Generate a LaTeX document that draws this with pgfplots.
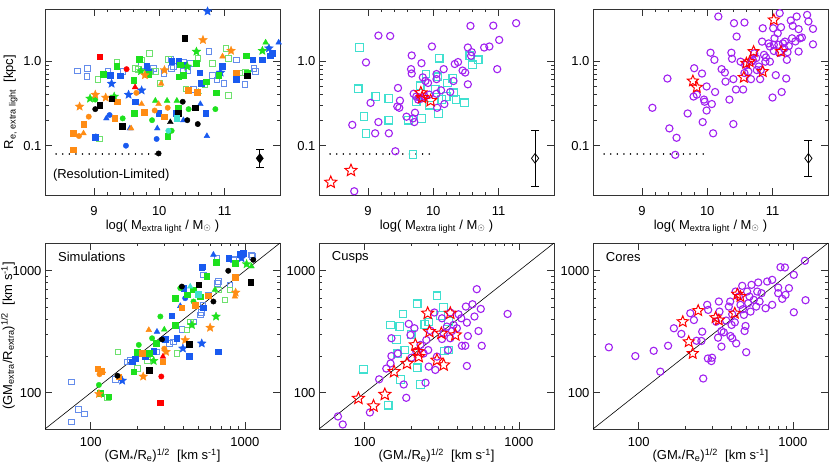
\documentclass[border=0pt]{standalone}
\usepackage{pgfplots}
\pgfplotsset{compat=1.18}
\usepackage{fontspec}
\setmainfont{Liberation Sans}
\definecolor{sblue}{RGB}{25,90,240}
\definecolor{lblue}{RGB}{100,140,235}
\definecolor{sgreen}{RGB}{30,225,30}
\definecolor{lgreen}{RGB}{110,225,110}
\definecolor{sorange}{RGB}{255,140,20}
\definecolor{spurple}{RGB}{160,32,240}
\definecolor{scyan}{RGB}{64,224,208}
\newcommand\fs{\fontsize{13}{15}\selectfont}
\newcommand\starpath{%
 \pgfpathmoveto{\pgfpointpolar{90}{\pgfplotmarksize}}%
 \pgfpathlineto{\pgfpointpolar{126}{0.45\pgfplotmarksize}}%
 \pgfpathlineto{\pgfpointpolar{162}{\pgfplotmarksize}}%
 \pgfpathlineto{\pgfpointpolar{198}{0.45\pgfplotmarksize}}%
 \pgfpathlineto{\pgfpointpolar{234}{\pgfplotmarksize}}%
 \pgfpathlineto{\pgfpointpolar{270}{0.45\pgfplotmarksize}}%
 \pgfpathlineto{\pgfpointpolar{306}{\pgfplotmarksize}}%
 \pgfpathlineto{\pgfpointpolar{342}{0.45\pgfplotmarksize}}%
 \pgfpathlineto{\pgfpointpolar{18}{\pgfplotmarksize}}%
 \pgfpathlineto{\pgfpointpolar{54}{0.45\pgfplotmarksize}}%
 \pgfpathclose}
\pgfdeclareplotmark{ostar}{\starpath\pgfusepathqstroke}
\pgfdeclareplotmark{fstar}{\starpath\pgfusepathqfillstroke}
\pgfplotsset{
 every axis/.append style={scale only axis, width=235pt, height=186pt, anchor=south west,
   tick align=inside, major tick length=7pt, minor tick length=3.5pt,
   axis line style={line width=0.8pt, black!80},
   every tick/.style={black!80, line width=0.6pt},
   tick label style={font=\fs}, label style={font=\fs},
   /pgf/number format/assume math mode=true},
 sq/.style={only marks, mark=square*, mark size=2.8pt},
 osq/.style={only marks, mark=square, mark size=2.8pt, mark options={line width=0.7pt}},
 ci/.style={only marks, mark=*, mark size=2.7pt},
 tr/.style={only marks, mark=triangle*, mark size=3.3pt},
 st/.style={only marks, mark=fstar, mark size=4.6pt, mark options={line width=0.3pt}},
 pc/.style={only marks, mark=o, mark size=3.6pt, spurple, mark options={line width=1.1pt}},
 cq/.style={only marks, mark=square, mark size=3.8pt, scyan, mark options={line width=1.2pt}},
 rs/.style={only marks, mark=ostar, mark size=6.3pt, red, mark options={line width=1pt}},
 dotl/.style={black, line width=1.6pt, line cap=round, dash pattern=on 0.01pt off 6.6pt},
}
\begin{document}
\begin{tikzpicture}
% ---------------- top left ----------------
\begin{axis}[at={(45pt,271pt)},
  xmin=8.25, xmax=11.85, ymode=log, ymin=0.0262, ymax=4.1,
  xtick={9,10,11}, xticklabels={9,10,11}, minor x tick num=4,
  ytick={0.1,1}, yticklabels={0.1,1.0},
  xlabel={log( M\textsubscript{extra light} / M\textsubscript{$\odot$} )},
  xlabel style={at={(axis description cs:0.5,0)}, anchor=base, yshift=-34pt},
  xticklabel style={anchor=base, yshift=-20pt},
  ylabel={R\textsubscript{e, extra light}\ \ [kpc]},
  ylabel style={at={(axis description cs:-0.136,0.5)}, anchor=base}]
\addplot[dotl] coordinates {(8.42,0.08) (10,0.08)};
\addplot[osq, lblue] coordinates {(8.75,0.76) (8.90,0.82) (8.89,0.66) (9.21,0.76) (9.44,0.75) (9.73,0.88) (9.86,0.75) (9.91,0.82) (10.07,0.71) (10.18,1.05) (10.22,0.87) (10.19,0.82) (10.37,0.98) (10.37,0.75) (10.44,0.77) (10.48,0.94) (10.52,0.46) (10.76,1.29) (10.81,0.68) (10.88,0.60) (10.99,0.54) (11.18,1.03) (11.18,0.64) (11.31,0.53) (11.45,0.82) (11.47,0.75)};
\addplot[osq, lgreen] coordinates {(9.06,0.61) (9.08,0.12) (9.35,0.98) (9.63,0.82) (9.73,1.03) (9.85,1.23) (9.94,0.75) (10.14,1.05) (10.01,0.54) (10.41,0.47) (10.59,1.07) (10.81,0.94) (11.02,1.41) (11.06,1.07) (11.23,0.72) (11.06,0.39) (11.32,0.73) (10.70,0.52) (9.68,0.80)};
\addplot[sq, sblue] coordinates {(9.25,0.68) (9.40,0.67) (9.63,0.33) (9.81,0.86) (9.83,0.75) (9.99,0.24) (10.19,0.99) (10.30,0.99) (10.37,0.90) (10.25,0.24) (10.62,0.73) (10.64,0.55) (10.71,0.24) (10.96,0.87) (11.18,0.61) (11.43,1.03) (11.58,1.03) (11.70,1.15) (11.73,1.23) (9.02,0.126)};
\addplot[ci, sblue] coordinates {(9.24,0.23) (9.49,0.10) (9.96,0.12)};
\addplot[tr, sblue] coordinates {(9.19,0.21) (9.97,0.16) (10.37,0.20) (10.63,0.31) (10.73,0.13) (11.83,1.65) (9.55,0.16) (9.03,0.127)};
\addplot[st, sblue] coordinates {(9.27,0.54) (9.53,0.40) (9.73,0.45) (10.74,3.85) (10.94,0.73) (11.68,1.41)};
\addplot[sq, sgreen] coordinates {(9.14,0.70) (9.35,0.87) (9.61,0.59) (9.69,1.05) (9.83,0.70) (10.37,0.68) (10.32,0.90) (10.57,0.94) (10.72,0.57) (10.91,0.68) (10.87,0.42) (11.33,1.15) (11.35,0.73) (10.13,0.13) (10.29,0.28) (9.62,0.24) (10.30,0.65)};
\addplot[ci, sgreen] coordinates {(9.32,0.21) (9.44,0.21) (9.89,0.20) (10.19,0.15) (10.45,0.27) (10.86,0.27) (9.02,0.35)};
\addplot[tr, sgreen] coordinates {(9.94,0.34) (10.12,0.34) (10.27,0.34) (10.60,0.43) (11.63,1.65)};
\addplot[st, sgreen] coordinates {(8.94,0.36) (9.31,0.38) (9.72,0.76) (10.43,0.86) (10.57,1.29) (11.58,1.32)};
\addplot[sq, sorange] coordinates {(8.68,0.09) (8.68,0.14) (8.84,0.18) (9.32,0.21) (9.36,0.33) (9.77,0.25) (10.08,0.22) (10.44,0.45) (10.58,0.43) (11.18,0.73)};
\addplot[ci, sorange] coordinates {(8.77,0.13) (8.92,0.22) (9.65,0.42) (9.93,0.26) (10.13,0.28)};
\addplot[tr, sorange] coordinates {(8.84,0.14) (9.57,0.16) (9.73,0.31) (9.99,0.31) (10.03,0.54) (10.97,1.13)};
\addplot[st, sorange] coordinates {(8.78,0.29) (9.02,0.40) (9.18,0.37) (9.78,0.68) (10.08,0.78) (10.67,1.77) (11.10,1.32)};
\addplot[sq, black] coordinates {(9.09,0.30) (9.27,0.36) (9.43,0.17) (10.39,1.85) (10.55,0.28) (11.35,0.67) (10.29,0.24)};
\addplot[ci, black] coordinates {(9.02,0.27) (9.99,0.081) (10.36,0.33) (10.43,0.20) (10.59,0.18)};
\addplot[tr, black] coordinates {(10.17,0.19)};
\addplot[sq, red] coordinates {(9.09,1.12)};
\addplot[ci, red] coordinates {(9.50,0.80)};
\addplot[tr, red] coordinates {(9.63,0.49)};
\addplot[sq, scyan] coordinates {(10.27,0.21)};
\addplot[ci, scyan] coordinates {(10.14,0.15)};
\addplot[black, mark=-, mark size=4pt, line width=0.8pt] coordinates {(11.54,0.055) (11.54,0.0914)};
\addplot[only marks, mark=diamond*, mark size=4.8pt, black] coordinates {(11.54,0.071)};
\node[anchor=west, inner sep=0pt, font=\fs] at (axis cs:8.37,0.045) {(Resolution-Limited)};
\end{axis}
% ---------------- top middle ----------------
\begin{axis}[at={(319pt,271pt)},
  xmin=8.25, xmax=11.85, ymode=log, ymin=0.0262, ymax=4.1,
  xtick={9,10,11}, xticklabels={9,10,11}, minor x tick num=4,
  ytick={0.1,1}, yticklabels={0.1,1.0},
  xlabel={log( M\textsubscript{extra light} / M\textsubscript{$\odot$} )},
  xlabel style={at={(axis description cs:0.5,0)}, anchor=base, yshift=-34pt},
  xticklabel style={anchor=base, yshift=-20pt}]
\addplot[dotl] coordinates {(8.42,0.08) (10,0.08)};
\addplot[cq] coordinates {(8.87,1.44) (8.85,0.47) (9.12,0.38) (9.32,0.36) (8.94,0.22) (8.97,0.14) (9.32,0.20) (9.62,0.20) (9.82,0.21) (9.69,0.079) (9.80,0.51) (9.89,0.70) (10.07,0.65) (10.09,1.08) (10.22,0.55) (10.35,0.35) (10.48,0.32) (10.13,0.35) (10.08,0.24) (9.94,0.30) (10.56,1.15) (10.69,1.03) (10.60,0.90) (10.31,0.42) (10.03,0.46) (10.20,0.38) (9.74,0.33) (10.30,0.62)};
\addplot[pc] coordinates {(9.16,1.99) (9.34,1.97) (8.97,0.96) (9.98,1.48) (9.67,1.16) (9.82,0.94) (9.66,0.80) (9.67,0.71) (9.84,0.64) (9.88,0.58) (9.92,0.55) (10.05,0.70) (10.05,0.61) (10.16,0.80) (10.31,0.58) (10.33,0.92) (10.38,0.97) (10.45,0.77) (10.49,0.73) (10.53,0.53) (10.53,1.44) (10.58,1.15) (10.59,1.27) (10.57,2.59) (10.78,1.44) (10.86,1.48) (10.92,2.61) (11.01,1.77) (10.98,0.80) (11.27,2.79) (9.46,0.48) (9.45,0.29) (9.49,0.34) (9.48,0.28) (9.04,0.32) (9.16,0.19) (9.11,0.14) (9.32,0.14) (8.76,0.176) (9.42,0.086) (8.79,0.029) (9.59,0.22) (9.69,0.21) (9.71,0.19) (9.72,0.245) (9.70,0.41) (9.79,0.37) (9.77,0.35) (9.87,0.38) (9.94,0.40) (10.05,0.41) (10.06,0.28) (10.12,0.45) (10.17,0.31) (10.26,0.43) (9.74,0.38) (9.82,0.36)};
\addplot[rs] coordinates {(8.43,0.037) (8.74,0.051) (9.81,0.42) (9.96,0.34) (9.83,0.37)};
\addplot[black, mark=-, mark size=4pt, line width=0.8pt] coordinates {(11.56,0.0328) (11.56,0.150)};
\addplot[only marks, mark=diamond, mark size=4.8pt, black, mark options={fill=white, line width=0.8pt}] coordinates {(11.56,0.071)};
\end{axis}
% ---------------- top right ----------------
\begin{axis}[at={(593pt,271pt)},
  xmin=8.25, xmax=11.85, ymode=log, ymin=0.0262, ymax=4.1,
  xtick={9,10,11}, xticklabels={9,10,11}, minor x tick num=4,
  ytick={0.1,1}, yticklabels={0.1,1.0},
  xlabel={log( M\textsubscript{extra light} / M\textsubscript{$\odot$} )},
  xlabel style={at={(axis description cs:0.5,0)}, anchor=base, yshift=-34pt},
  xticklabel style={anchor=base, yshift=-20pt}]
\addplot[dotl] coordinates {(8.42,0.08) (10,0.08)};
\addplot[pc] coordinates {(9.16,0.28) (9.42,0.16) (9.53,0.124) (9.51,0.078) (9.39,0.62) (9.70,0.24) (9.80,0.82) (9.92,0.71) (9.79,0.38) (9.84,0.40) (9.95,0.35) (9.96,0.33) (9.99,0.26) (9.99,0.50) (9.93,0.19) (10.07,0.31) (10.09,0.14) (10.12,0.43) (10.05,1.25) (10.11,1.03) (10.17,3.34) (10.22,0.80) (10.27,0.73) (10.28,0.57) (10.34,0.35) (10.37,1.25) (10.38,1.06) (10.40,0.61) (10.40,0.18) (10.44,0.46) (10.41,2.79) (10.45,1.94) (10.55,0.46) (10.57,2.84) (10.58,0.90) (10.63,0.75) (10.68,0.98) (10.72,1.23) (10.75,1.08) (10.79,0.86) (10.81,0.61) (10.67,0.61) (10.82,0.78) (10.84,1.69) (10.87,1.18) (10.89,0.98) (10.85,2.43) (10.94,1.61) (10.96,1.48) (11.00,0.37) (11.02,1.55) (11.01,2.43) (11.03,1.85) (11.05,0.68) (11.08,2.12) (11.11,3.66) (11.14,0.43) (11.13,2.50) (11.19,1.69) (11.16,1.61) (11.22,1.03) (11.23,1.27) (11.21,0.62) (11.28,3.00) (11.30,1.85) (11.31,2.59) (11.37,3.34) (11.40,2.37) (11.40,1.29) (11.42,1.85) (11.45,1.89) (11.53,3.49) (11.55,2.92) (11.62,2.39) (11.62,1.57) (11.02,1.31) (11.09,1.55) (10.96,0.98) (10.76,0.78) (10.57,0.72) (10.51,0.98) (10.70,1.02) (10.90,1.10) (11.10,1.25) (11.18,1.40) (11.25,1.50) (11.35,1.70)};
\addplot[rs, mark size=5.8pt] coordinates {(9.78,0.58) (9.84,0.49) (10.71,1.29) (10.60,0.94) (10.56,0.64) (10.85,0.75) (11.02,3.05) (11.13,1.29) (10.65,0.98)};
\addplot[black, mark=-, mark size=4pt, line width=0.8pt] coordinates {(11.55,0.0439) (11.55,0.1146)};
\addplot[only marks, mark=diamond, mark size=4.8pt, black, mark options={fill=white, line width=0.8pt}] coordinates {(11.55,0.071)};
\end{axis}
% ---------------- bottom left ----------------
\begin{axis}[at={(45pt,37pt)},
  xmode=log, ymode=log, xmin=50.5, xmax=1690, ymin=50.5, ymax=1690,
  xtick={100,1000}, xticklabels={100,1000}, ytick={100,1000}, yticklabels={100,1000},
  xlabel={(GM\textsubscript{*}/R\textsubscript{e})\textsuperscript{1/2}\ \ [km s\textsuperscript{-1}]},
  xlabel style={at={(axis description cs:0.5,0)}, anchor=base, yshift=-31pt},
  xticklabel style={anchor=base, yshift=-18pt},
  ylabel={(GM\textsubscript{extra}/R\textsubscript{extra})\textsuperscript{1/2}\ \ [km s\textsuperscript{-1}]},
  ylabel style={at={(axis description cs:-0.14,0.5)}, anchor=base}]
\addplot[black, line width=0.6pt] coordinates {(50.5,50.5) (1690,1690)};
\addplot[osq, lblue] coordinates {(75,58) (83,73) (91,67) (75,123) (145,129) (172,180) (221,210) (269,217) (256,217) (345,262) (513,435) (533,525) (538,927) (656,1270) (673,817) (800,767) (841,1231) (1104,1350) (180,185) (325,255) (391,332) (464,383) (520,454) (579,635) (662,793) (849,1247) (1122,1309)};
\addplot[osq, lgreen] coordinates {(150,217) (200,158) (232,185) (362,210) (421,327) (442,383) (673,698) (743,578) (800,698) (128,92)};
\addplot[sq, sblue] coordinates {(186,180) (195,191) (226,198) (256,220) (305,276) (336,429) (362,280) (437,199) (538,500) (525,1065) (673,217) (785,1270) (929,1371) (975,1396) (400,721) (533,1084) (953,1353)};
\addplot[ci, sblue] coordinates {(410,596) (300,270)};
\addplot[tr, sblue] coordinates {(381,515) (625,1355) (269,317)};
\addplot[st, sblue] coordinates {(160,126) (396,231) (525,254) (951,1270)};
\addplot[sq, sgreen] coordinates {(115,99) (131,93) (190,149) (200,215) (267,254) (353,360) (353,596) (421,635) (464,698) (566,898) (650,1178) (862,1156) (513,615) (240,210)};
\addplot[ci, sgreen] coordinates {(113,116) (283,422) (205,247) (381,721) (464,560) (250,280)};
\addplot[tr, sgreen] coordinates {(300,330) (1104,1087) (640,700)};
\addplot[st, sgreen] coordinates {(256,183) (453,360) (650,422) (1026,1135)};
\addplot[sq, sorange] coordinates {(111,158) (152,136) (293,180) (390,500) (476,525) (580,624) (862,882) (215,210) (118,150)};
\addplot[ci, sorange] coordinates {(114,142) (300,230)};
\addplot[tr, sorange] coordinates {(238,327) (862,615) (120,150)};
\addplot[st, sorange] coordinates {(113,98) (219,136) (308,217) (410,271) (595,342) (871,664)};
\addplot[sq, black] coordinates {(240,154) (437,250) (502,767) (1089,802)};
\addplot[ci, black] coordinates {(149,138) (390,743) (625,560) (780,1000) (1133,1231) (290,274)};
\addplot[sq, red] coordinates {(283,83)};
\addplot[ci, red] coordinates {(287,136)};
\addplot[tr, red] coordinates {(294,198)};
\addplot[sq, scyan] coordinates {(500,643)};
\addplot[tr, scyan] coordinates {(442,743)};
\node[anchor=west, inner sep=0pt, font=\fs] at (axis description cs:0.055,0.925) {Simulations};
\end{axis}
% ---------------- bottom middle ----------------
\begin{axis}[at={(319pt,37pt)},
  xmode=log, ymode=log, xmin=50.5, xmax=1690, ymin=50.5, ymax=1690,
  xtick={100,1000}, xticklabels={100,1000}, ytick={100,1000}, yticklabels={100,1000},
  xlabel={(GM\textsubscript{*}/R\textsubscript{e})\textsuperscript{1/2}\ \ [km s\textsuperscript{-1}]},
  xlabel style={at={(axis description cs:0.5,0)}, anchor=base, yshift=-31pt},
  xticklabel style={anchor=base, yshift=-18pt}]
\addplot[black, line width=0.6pt] coordinates {(50.5,50.5) (1690,1690)};
\addplot[cq] coordinates {(98,156) (142,79) (147,360) (169,349) (171,129) (161,274) (164,210) (177,443) (182,224) (219,536) (230,117) (219,160) (245,364) (294,624) (325,500) (350,383) (330,220) (350,224) (200,300) (260,380) (310,430)};
\addplot[pc] coordinates {(67,64) (72,55) (108,69) (124,129) (138,158) (147,174) (149,280) (149,200) (164,210) (179,117) (186,91) (193,367) (198,298) (210,338) (201,194) (216,217) (230,247) (241,210) (248,121) (251,271) (258,224) (260,164) (267,323) (283,455) (287,154) (294,198) (317,276) (317,408) (325,307) (341,349) (347,224) (359,455) (359,280) (368,321) (377,360) (396,338) (406,440) (423,408) (427,243) (453,509) (460,376) (449,243) (460,166) (467,292) (500,532) (515,422) (533,707) (547,321) (574,243) (566,487) (845,443)};
\addplot[rs] coordinates {(91,90) (114,78) (135,97) (155,149) (188,174) (213,247) (222,217) (224,198) (256,449) (263,317) (294,185) (325,169) (314,307) (359,449) (387,298)};
\node[anchor=west, inner sep=0pt, font=\fs] at (axis description cs:0.054,0.925) {Cusps};
\end{axis}
% ---------------- bottom right ----------------
\begin{axis}[at={(593pt,37pt)},
  xmode=log, ymode=log, xmin=50.5, xmax=1690, ymin=50.5, ymax=1690,
  xtick={100,1000}, xticklabels={100,1000}, ytick={100,1000}, yticklabels={100,1000},
  xlabel={(GM\textsubscript{*}/R\textsubscript{e})\textsuperscript{1/2}\ \ [km s\textsuperscript{-1}]},
  xlabel style={at={(axis description cs:0.5,0)}, anchor=base, yshift=-31pt},
  xticklabel style={anchor=base, yshift=-18pt}]
\addplot[black, line width=0.6pt] coordinates {(50.5,50.5) (1690,1690)};
\addplot[pc] coordinates {(64,236) (95,200) (125,221) (138,149) (155,243) (169,338) (189,304) (216,449) (228,395) (237,267) (258,317) (255,266) (262,131) (278,526) (282,478) (281,191) (296,182) (299,194) (318,383) (327,283) (334,463) (344,321) (344,239) (356,313) (369,391) (384,509) (392,560) (394,292) (400,360) (404,280) (420,378) (425,676) (429,254) (446,615) (457,526) (469,753) (473,484) (481,435) (486,321) (493,353) (498,215) (505,676) (513,542) (523,615) (531,463) (539,767) (558,578) (578,509) (587,676) (596,802) (608,560) (626,655) (665,493) (681,817) (734,843) (734,526) (803,729) (853,589) (888,1065) (831,1071) (896,635) (803,655) (943,721) (1014,457) (1014,927) (1197,1208) (1208,574) (331,560) (404,440)};
\addplot[rs, mark size=5.8pt] coordinates {(193,383) (243,472) (211,262) (224,210) (315,413) (331,395) (436,643) (457,615) (420,449)};
\node[anchor=west, inner sep=0pt, font=\fs] at (axis description cs:0.054,0.925) {Cores};
\end{axis}
\pgfresetboundingbox
\path[use as bounding box] (0pt,0pt) rectangle (830pt,466pt);
\end{tikzpicture}
\end{document}
